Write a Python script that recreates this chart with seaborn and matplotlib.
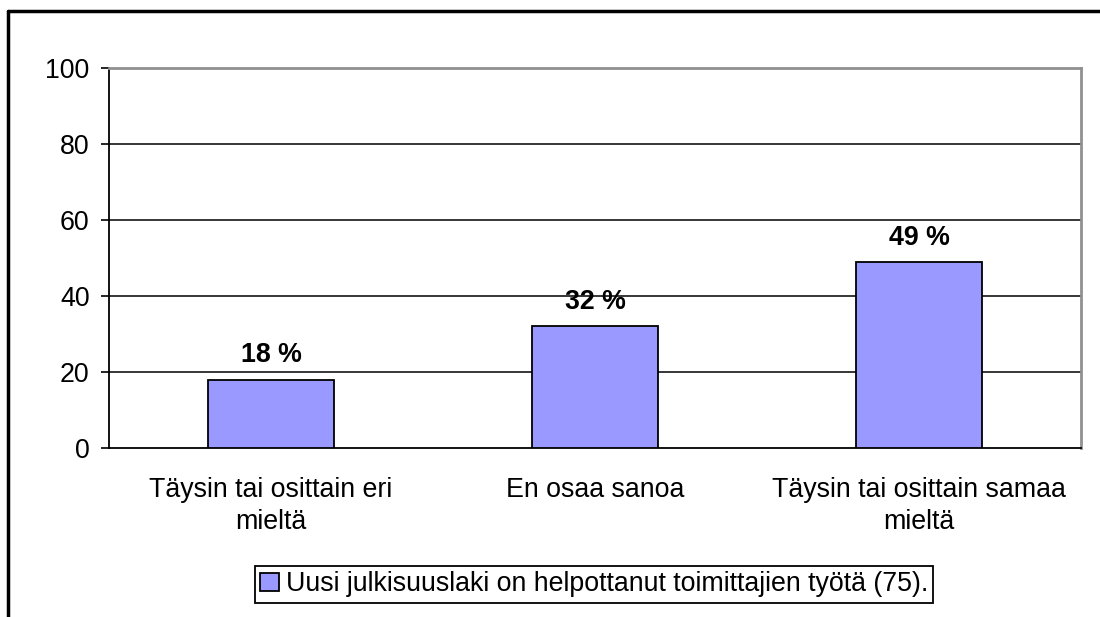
import matplotlib
matplotlib.use("Agg")
import matplotlib.pyplot as plt
from matplotlib.lines import Line2D
import pandas as pd
import seaborn as sns

# data
categories = ["Täysin tai osittain eri\nmieltä", "En osaa sanoa", "Täysin tai osittain samaa\nmieltä"]
values = [18, 32, 49]
series_name = "Uusi julkisuuslaki on helpottanut toimittajien työtä (75)."
y_ticks = [0, 20, 40, 60, 80, 100]

sns.set_style("white")
plt.rcParams["font.family"] = ["Liberation Sans", "DejaVu Sans"]
plt.rcParams["font.size"] = 19.3
plt.rcParams["text.color"] = "black"
plt.rcParams["xtick.color"] = "black"
plt.rcParams["ytick.color"] = "black"

df = pd.DataFrame({"answer": categories, "share": values})

fig = plt.figure(figsize=(11, 6.17), dpi=100)
ax = fig.add_axes([0.0991, 0.2739, 0.8836, 0.6159])

sns.barplot(data=df, x="answer", y="share", color="#9999FF", edgecolor="black",
            linewidth=1.3, width=0.39, saturation=1, label=series_name, ax=ax, zorder=3)

ax.set_ylim(0, 100)
ax.set_xlim(-0.5, 2.5)
ax.set_yticks(y_ticks)
for t in y_ticks[1:-1]:
    ax.axhline(t, color="black", lw=1.1, zorder=1)

ax.bar_label(ax.containers[0], labels=[f"{v} %" for v in values],
             fontweight="bold", fontsize=19.3, padding=8, color="black")

ax.set_xlabel("")
ax.set_ylabel("")
ax.tick_params(axis="y", direction="out", length=6, width=1.2, color="black",
               labelcolor="black", pad=8, left=True, labelsize=19.3)
ax.tick_params(axis="x", length=0, pad=21, labelcolor="black", labelsize=19.3)
for lab in ax.get_xticklabels():
    lab.set_linespacing(1.3)

ax.spines["left"].set_color("black")
ax.spines["bottom"].set_color("black")
ax.spines["left"].set_linewidth(1.3)
ax.spines["bottom"].set_linewidth(1.3)
ax.spines["top"].set_color("#909090")
ax.spines["right"].set_color("#909090")
ax.spines["top"].set_linewidth(2)
ax.spines["right"].set_linewidth(2)

leg = ax.legend(loc="center", bbox_to_anchor=(0.54, 0.053), bbox_transform=fig.transFigure,
                frameon=True, fancybox=False, edgecolor="black", framealpha=1,
                handlelength=0.7, handleheight=0.7, handletextpad=0.25,
                borderpad=0.2, borderaxespad=0, fontsize=19.3)
leg.get_frame().set_linewidth(1.3)
for txt in leg.get_texts():
    txt.set_color("black")

# outer frame (top and left edges only)
fig.add_artist(Line2D([0.0073, 1.0], [0.982, 0.982], transform=fig.transFigure, color="black", lw=2.5))
fig.add_artist(Line2D([0.0073, 0.0073], [0.0, 0.982], transform=fig.transFigure, color="black", lw=2.5))

fig.savefig("out.png", dpi=100)
